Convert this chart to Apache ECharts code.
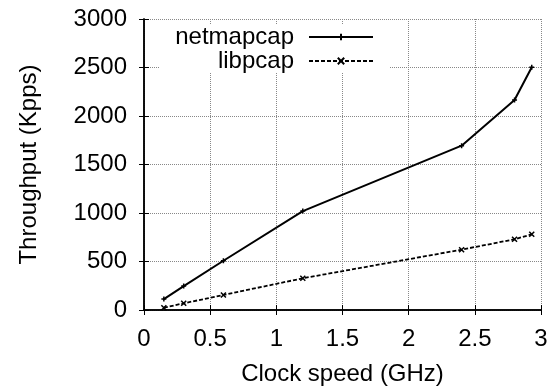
<!DOCTYPE html>
<html>
<head>
<meta charset="utf-8">
<script src="https://cdn.jsdelivr.net/npm/echarts@6/dist/echarts.min.js"></script>
<style>
  html, body { margin: 0; padding: 0; background: #fff; }
  #chart { width: 557px; height: 388px; }
</style>
</head>
<body>
<div id="chart"></div>
<script>
// clock speeds (GHz)
var clockSpeeds = [0.15, 0.3, 0.6, 1.2, 2.4, 2.8, 2.93];
// throughput (Kpps)
var netmapcap = [113, 247, 508, 1020, 1694, 2165, 2502];
var libpcap = [24, 69, 155, 327, 622, 729, 780];

var fontFamily = '"Liberation Sans", Arial, sans-serif';
var plusPath = 'path://M0,5L10,5M5,0L5,10';
var crossPath = 'path://M0,0L10,10M10,0L0,10';

function pairs(xs, ys) {
    return xs.map(function (x, i) { return [x, ys[i]]; });
}

var chart = echarts.init(document.getElementById('chart'));

var gridLine = { show: true, lineStyle: { color: '#888', width: 1, type: 'dotted' } };
var frameLine = { show: true, lineStyle: { color: '#000', width: 1.5 } };
var tickIn = { show: true, inside: true, length: 5, lineStyle: { color: '#000', width: 1 } };

var option = {
    animation: false,
    backgroundColor: '#fff',
    textStyle: { fontFamily: fontFamily },
    grid: { left: 144, right: 16, top: 19, bottom: 78, containLabel: false, outerBoundsMode: 'none' },
    legend: [
        {
            data: ['netmapcap'], orient: 'vertical', align: 'right',
            right: 183, top: 25, itemWidth: 64, itemHeight: 8, itemGap: 0, padding: 0,
            textStyle: { fontSize: 24, color: '#000', fontFamily: fontFamily, padding: [0, 10, 0, 0] }
        },
        {
            data: ['libpcap'], orient: 'vertical', align: 'right',
            right: 183, top: 49, itemWidth: 64, itemHeight: 8, itemGap: 0, padding: 0,
            textStyle: { fontSize: 24, color: '#000', fontFamily: fontFamily, padding: [0, 10, 0, 0] }
        }
    ],
    graphic: [{
        type: 'rect', z: 1,
        shape: { x: 160, y: 24, width: 230, height: 49 },
        style: { fill: '#fff' }
    }],
    xAxis: [
        {
            type: 'value', min: 0, max: 3, interval: 0.5,
            name: 'Clock speed (GHz)', nameLocation: 'middle', nameGap: 52,
            nameTextStyle: { fontSize: 24, color: '#000', fontFamily: fontFamily },
            axisLine: frameLine, axisTick: tickIn, splitLine: gridLine,
            axisLabel: { fontSize: 24, color: '#000', margin: 17, fontFamily: fontFamily }
        },
        {
            type: 'value', min: 0, max: 3, interval: 0.5, position: 'top',
            axisLine: frameLine, axisTick: tickIn, splitLine: { show: false },
            axisLabel: { show: false }
        }
    ],
    yAxis: [
        {
            type: 'value', min: 0, max: 3000, interval: 500,
            name: 'Throughput (Kpps)', nameLocation: 'middle', nameGap: 103,
            nameTextStyle: { fontSize: 24, color: '#000', fontFamily: fontFamily },
            axisLine: frameLine, axisTick: tickIn, splitLine: gridLine,
            axisLabel: {
                fontSize: 24, color: '#000', margin: 17, fontFamily: fontFamily,
                formatter: function (v) { return String(v); }
            }
        },
        {
            type: 'value', min: 0, max: 3000, interval: 500, position: 'right',
            axisLine: frameLine, axisTick: tickIn, splitLine: { show: false },
            axisLabel: { show: false }
        }
    ],
    series: [
        {
            name: 'netmapcap', type: 'line',
            data: pairs(clockSpeeds, netmapcap),
            symbol: plusPath, symbolSize: 5, z: 3,
            lineStyle: { color: '#000', width: 2 },
            itemStyle: { color: '#000', borderColor: '#000', borderWidth: 1.5 }
        },
        {
            name: 'libpcap', type: 'line',
            data: pairs(clockSpeeds, libpcap),
            symbol: crossPath, symbolSize: 5, z: 3,
            lineStyle: { color: '#000', width: 1.8, type: [4, 2] },
            itemStyle: { color: '#000', borderColor: '#000', borderWidth: 1.5 }
        }
    ]
};

chart.setOption(option);
</script>
</body>
</html>
